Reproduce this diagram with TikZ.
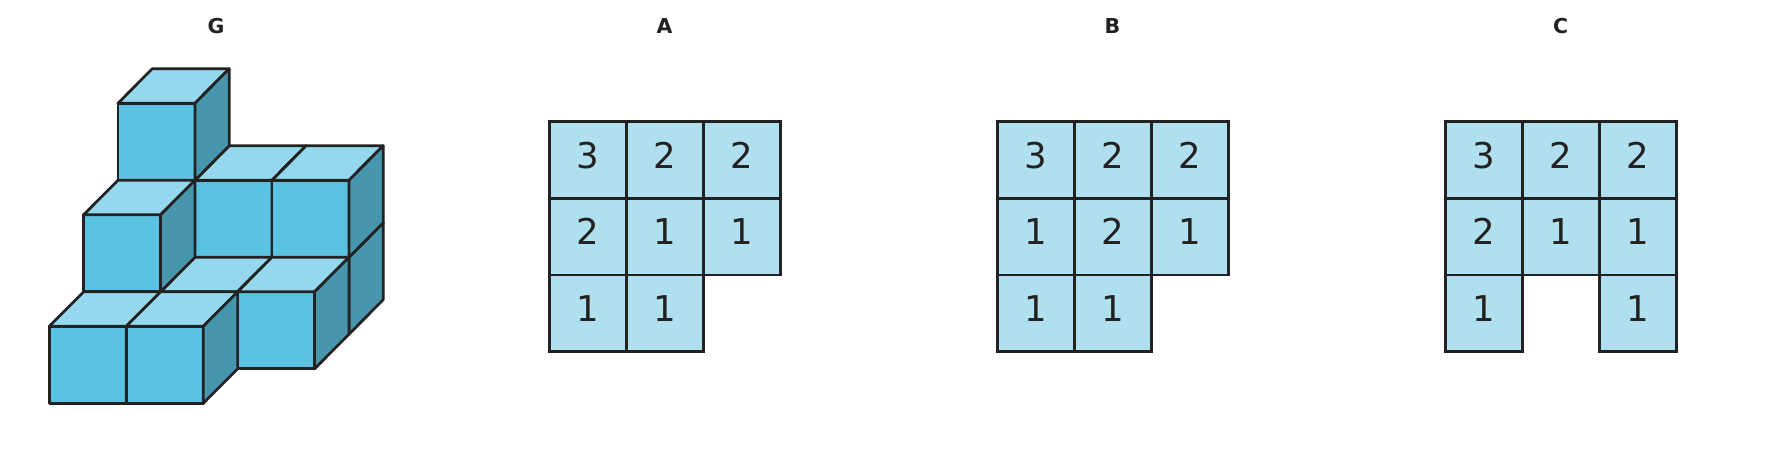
\documentclass[tikz,border=0pt]{standalone}
\usepackage{xcolor}
\usepackage{fontspec}
\setmainfont{DejaVu Sans}
\definecolor{inkline}{HTML}{222222}
\definecolor{cubefront}{HTML}{5BC2E2}
\definecolor{cubetop}{HTML}{95D8EE}
\definecolor{cubeside}{HTML}{4895AE}
\definecolor{cellfill}{HTML}{B0E0F0}

\begin{document}
\begin{tikzpicture}[
  x=1pt, y=-1pt,
  face/.style={draw=inkline, line width=2.7pt, line join=round},
  front/.style={face, fill=cubefront},
  topface/.style={face, fill=cubetop},
  side/.style={face, fill=cubeside},
  cell/.style={draw=inkline, line width=2.7pt, fill=cellfill, minimum width=77pt, minimum height=76.6pt, inner sep=0pt, outer sep=0pt,
    text=inkline, text height=26pt, text depth=10pt, font=\fontsize{35.5}{40}\selectfont},
  paneltitle/.style={text=inkline, inner sep=0pt, font=\fontsize{20.5}{24}\selectfont\bfseries}
]
\useasboundingbox (0,0) rectangle (1776,452);

\node[paneltitle] (titleg) at (216,26.5) {G};
\node[paneltitle] (titlea) at (664.5,26.5) {A};
\node[paneltitle] (titleb) at (1112.5,26.5) {B};
\node[paneltitle] (titlec) at (1560.5,26.5) {C};

% stack of cubes, back to front
\foreach \i/\j/\k in {0/2/0, 1/2/0, 2/2/0, 0/2/1, 1/2/1, 2/2/1, 0/2/2,
                      0/1/0, 1/1/0, 2/1/0, 0/1/1,
                      0/0/0, 1/0/0} {
  \coordinate (o) at (49.3+77*\i+34.3*\j, 403.3-77*\k-34.5*\j);
  \draw[front] (o) rectangle ++(77,-77);
  \draw[topface] (o) ++(0,-77) -- ++(34.3,-34.5) -- ++(77,0) -- ++(-34.3,34.5) -- cycle;
  \draw[side] (o) ++(77,0) -- ++(34.3,-34.5) -- ++(0,-77) -- ++(-34.3,34.5) -- cycle;
}

% top views
\foreach \col/\row/\val in {0/0/3, 1/0/2, 2/0/2, 0/1/2, 1/1/1, 2/1/1, 0/2/1, 1/2/1}
  \node[cell] (a\row\col) at (588+77*\col, 160+76.6*\row) {\val};
\foreach \col/\row/\val in {0/0/3, 1/0/2, 2/0/2, 0/1/1, 1/1/2, 2/1/1, 0/2/1, 1/2/1}
  \node[cell] (b\row\col) at (1036+77*\col, 160+76.6*\row) {\val};
\foreach \col/\row/\val in {0/0/3, 1/0/2, 2/0/2, 0/1/2, 1/1/1, 2/1/1, 0/2/1, 2/2/1}
  \node[cell] (c\row\col) at (1484+77*\col, 160+76.6*\row) {\val};
\end{tikzpicture}
\end{document}
